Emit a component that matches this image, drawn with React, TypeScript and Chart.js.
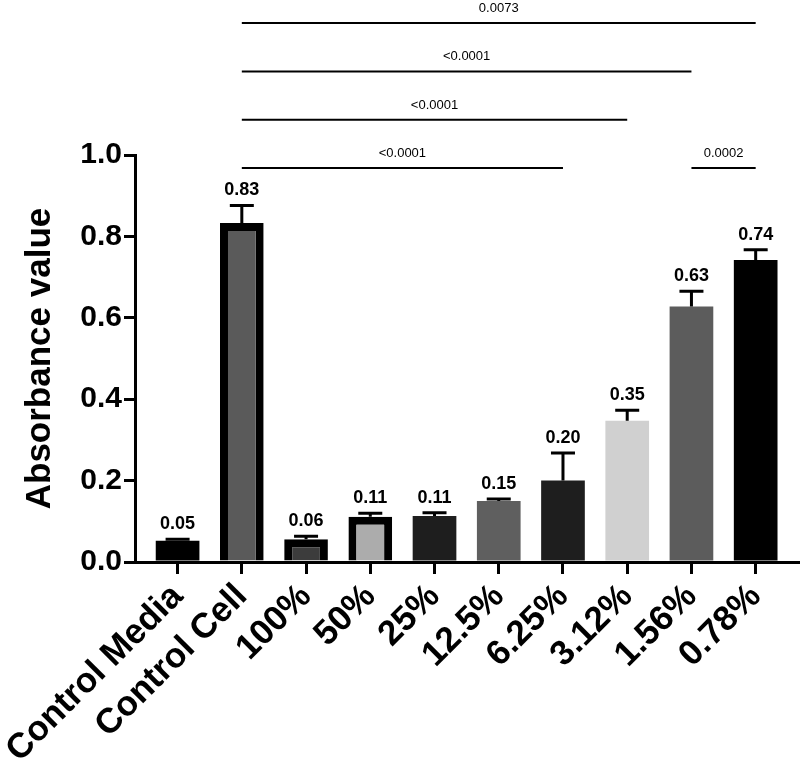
import React, { useEffect, useRef } from 'react';
import Chart from 'chart.js/auto';

const categories = ['Control Media', 'Control Cell', '100%', '50%', '25%', '12.5%', '6.25%', '3.12%', '1.56%', '0.78%'];
const means = [0.052, 0.833, 0.056, 0.111, 0.113, 0.15, 0.2, 0.347, 0.628, 0.742];
const sem = [0.004, 0.043, 0.007, 0.009, 0.008, 0.005, 0.068, 0.026, 0.037, 0.025];
const fillColors = ['#000000', '#5a5a5a', '#3c3c3c', '#acacac', '#1e1e1e', '#5f5f5f', '#1e1e1e', '#d0d0d0', '#5c5c5c', '#000000'];
const outlined = [false, true, true, true, false, false, false, false, false, false];
const yTicks = [0, 0.2, 0.4, 0.6, 0.8, 1.0];
const cmpFrom = [1, 1, 1, 1, 8];
const cmpTo = [9, 8, 7, 6, 9];
const cmpP = ['0.0073', '<0.0001', '<0.0001', '<0.0001', '0.0002'];
const cmpTier = [4, 3, 2, 1, 1];

const FONT = '"Liberation Sans", Arial, Helvetica, sans-serif';

const overlay = {
  id: 'overlay',
  afterDatasetsDraw(chart: any) {
    const ctx = chart.ctx;
    const xs = chart.scales.x;
    const ys = chart.scales.y;
    ctx.save();
    ctx.strokeStyle = '#000';
    ctx.fillStyle = '#000';
    means.forEach((m, i) => {
      const cx = xs.getPixelForValue(i);
      const yTop = ys.getPixelForValue(m);
      const yErr = ys.getPixelForValue(m + sem[i]);
      ctx.lineWidth = 3;
      ctx.beginPath();
      ctx.moveTo(cx, yTop);
      ctx.lineTo(cx, yErr);
      ctx.moveTo(cx - 12, yErr);
      ctx.lineTo(cx + 12, yErr);
      ctx.stroke();
      ctx.font = 'bold 18px ' + FONT;
      ctx.textAlign = 'center';
      ctx.textBaseline = 'alphabetic';
      ctx.fillText(m.toFixed(2), cx, yErr - 10);
    });
    const top = chart.chartArea.top;
    cmpFrom.forEach((f, k) => {
      const x1 = xs.getPixelForValue(f);
      const x2 = xs.getPixelForValue(cmpTo[k]);
      const y = top + 13 - (cmpTier[k] - 1) * 48.3;
      ctx.lineWidth = 2;
      ctx.beginPath();
      ctx.moveTo(x1, y);
      ctx.lineTo(x2, y);
      ctx.stroke();
      ctx.font = '13px ' + FONT;
      ctx.textAlign = 'center';
      ctx.textBaseline = 'alphabetic';
      ctx.fillText(cmpP[k], (x1 + x2) / 2, y - 11);
    });
    ctx.restore();
  },
};

export default function App() {
  const ref = useRef<HTMLCanvasElement>(null);
  useEffect(() => {
    if (!ref.current) return;
    const chart = new Chart(ref.current, {
      type: 'bar',
      data: {
        datasets: [
          {
            data: means.map((m, i) => ({ x: i, y: m })),
            backgroundColor: fillColors,
            borderColor: '#000000',
            borderWidth: outlined.map((o) => (o ? 8 : 0)),
            barPercentage: 0.68,
            categoryPercentage: 1,
          },
        ],
      },
      options: {
        animation: false,
        responsive: false,
        devicePixelRatio: 1,
        layout: { padding: { top: 155, left: 0, right: 0, bottom: 0 } },
        plugins: { legend: { display: false }, tooltip: { enabled: false } },
        scales: {
          x: {
            type: 'linear',
            offset: false,
            min: -0.663,
            max: 9.69,
            afterBuildTicks: (s: any) => {
              s.ticks = categories.map((_, i) => ({ value: i }));
            },
            afterFit: (s: any) => {
              s.height = 204;
            },
            ticks: {
              autoSkip: false,
              minRotation: 45,
              maxRotation: 45,
              color: '#000',
              padding: 2,
              font: { family: FONT, size: 35, weight: 'bold' },
              callback: (v: any) => categories[v] ?? '',
            },
            grid: { display: true, offset: false, drawOnChartArea: false, drawTicks: true, tickLength: 12, lineWidth: 3, color: '#000' },
            border: { display: true, width: 3, color: '#000' },
          },
          y: {
            min: 0,
            max: 1,
            afterBuildTicks: (s: any) => {
              s.ticks = yTicks.map((v) => ({ value: v }));
            },
            afterFit: (s: any) => {
              s.width = 135;
            },
            ticks: {
              color: '#000',
              padding: 2,
              font: { family: FONT, size: 30, weight: 'bold' },
              callback: (v: any) => Number(v).toFixed(1),
            },
            title: {
              display: true,
              text: 'Absorbance value',
              color: '#000',
              font: { family: FONT, size: 35, weight: 'bold' },
              padding: { top: 19, bottom: 0 },
            },
            grid: { display: true, drawOnChartArea: false, drawTicks: true, tickLength: 11, lineWidth: 3, color: '#000' },
            border: { display: true, width: 3, color: '#000' },
          },
        },
      },
      plugins: [overlay],
    } as any);
    return () => chart.destroy();
  }, []);
  return (
    <div style={{ position: 'absolute', left: 0, top: 0, width: 800, height: 766, background: '#fff' }}>
      <canvas ref={ref} width={800} height={766} style={{ display: 'block' }} />
    </div>
  );
}
